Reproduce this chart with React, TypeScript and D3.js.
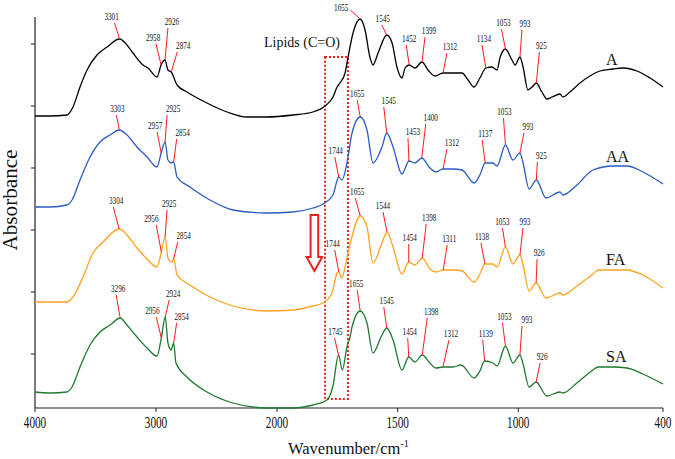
import React from 'react';
import * as d3 from 'd3';

const W = 675;
const H = 459;

// ---------- data ----------
const seriesNames = ['A', 'AA', 'FA', 'SA'];
const seriesColors = ['#000000', '#2a5bc4', '#ffa31f', '#1f7a30'];

const xTickValues = [4000, 3000, 2000, 1500, 1000, 400];
const yTickValues = [0.62, 1.24, 1.86, 2.48, 3.1, 3.72];

// [wavenumber cm-1, absorbance (a.u., offset stacked)]
const dataA: [number, number][] = [
  [4000, 3.0], [3876, 3.0], [3736, 3.01], [3686, 3.09], [3628, 3.29], [3570, 3.46], [3488, 3.61],
  [3405, 3.69], [3301, 3.77], [3240, 3.71], [3190, 3.63], [3107, 3.51], [3066, 3.48], [2992, 3.39],
  [2958, 3.51], [2926, 3.56], [2901, 3.46], [2874, 3.44], [2826, 3.31], [2744, 3.24], [2579, 3.13],
  [2413, 3.04], [2248, 2.99], [2083, 2.99], [1934, 3.01], [1851, 3.04], [1801, 3.1], [1768, 3.19],
  [1751, 3.29], [1739, 3.33], [1718, 3.43], [1706, 3.58], [1685, 3.83], [1655, 3.97], [1635, 3.86],
  [1615, 3.59], [1602, 3.51], [1581, 3.63], [1545, 3.81], [1523, 3.73], [1503, 3.49], [1482, 3.38],
  [1469, 3.48], [1452, 3.51], [1428, 3.48], [1399, 3.54], [1374, 3.46], [1345, 3.4], [1312, 3.43],
  [1270, 3.43], [1233, 3.43], [1208, 3.36], [1183, 3.29], [1159, 3.38], [1134, 3.48], [1109, 3.49],
  [1088, 3.46], [1076, 3.58], [1053, 3.67], [1026, 3.56], [1013, 3.51], [993, 3.59], [980, 3.49],
  [960, 3.26], [943, 3.29], [925, 3.33], [902, 3.24], [881, 3.17], [860, 3.19], [827, 3.22],
  [815, 3.19], [786, 3.24], [744, 3.33], [703, 3.4], [661, 3.45], [607, 3.47], [566, 3.48],
  [508, 3.45], [454, 3.38], [400, 3.29],
];

const dataAA: [number, number][] = [
  [4000, 2.09], [3876, 2.09], [3736, 2.11], [3694, 2.16], [3628, 2.36], [3545, 2.59], [3463, 2.74],
  [3380, 2.81], [3303, 2.86], [3240, 2.81], [3157, 2.69], [3074, 2.59], [2992, 2.49], [2957, 2.63],
  [2925, 2.74], [2901, 2.56], [2875, 2.53], [2854, 2.54], [2826, 2.39], [2719, 2.29], [2554, 2.16],
  [2364, 2.06], [2083, 2.03], [1934, 2.04], [1851, 2.08], [1809, 2.12], [1768, 2.21], [1744, 2.39],
  [1731, 2.36], [1710, 2.53], [1689, 2.83], [1655, 2.99], [1627, 2.86], [1602, 2.53], [1565, 2.69],
  [1545, 2.83], [1519, 2.69], [1482, 2.42], [1453, 2.55], [1428, 2.53], [1400, 2.58], [1366, 2.48],
  [1341, 2.44], [1312, 2.47], [1270, 2.47], [1233, 2.46], [1183, 2.33], [1159, 2.41], [1137, 2.53],
  [1105, 2.53], [1088, 2.5], [1053, 2.71], [1022, 2.56], [993, 2.63], [980, 2.53], [955, 2.27],
  [925, 2.36], [885, 2.18], [827, 2.24], [815, 2.21], [757, 2.31], [690, 2.46], [607, 2.5],
  [549, 2.5], [483, 2.44], [400, 2.32],
];

const dataFA: [number, number][] = [
  [4000, 1.14], [3876, 1.14], [3736, 1.14], [3686, 1.19], [3603, 1.39], [3521, 1.63], [3438, 1.74],
  [3304, 1.87], [3240, 1.81], [3157, 1.68], [3074, 1.57], [2992, 1.49], [2956, 1.64], [2925, 1.79],
  [2901, 1.58], [2868, 1.54], [2854, 1.57], [2826, 1.41], [2719, 1.31], [2554, 1.19], [2364, 1.1],
  [2083, 1.05], [1934, 1.06], [1851, 1.1], [1809, 1.13], [1772, 1.23], [1751, 1.43], [1744, 1.44],
  [1731, 1.38], [1718, 1.49], [1697, 1.72], [1655, 2.0], [1627, 1.89], [1602, 1.53], [1565, 1.73],
  [1544, 1.84], [1519, 1.69], [1482, 1.42], [1454, 1.54], [1428, 1.51], [1398, 1.58], [1366, 1.47],
  [1341, 1.44], [1311, 1.46], [1270, 1.46], [1233, 1.45], [1183, 1.34], [1159, 1.42], [1138, 1.52],
  [1105, 1.52], [1088, 1.49], [1053, 1.69], [1022, 1.52], [993, 1.61], [980, 1.51], [955, 1.25],
  [926, 1.33], [885, 1.18], [827, 1.23], [815, 1.21], [757, 1.3], [690, 1.42], [669, 1.46],
  [607, 1.46], [549, 1.46], [483, 1.41], [400, 1.28],
];

const dataSA: [number, number][] = [
  [4000, 0.24], [3876, 0.23], [3736, 0.24], [3694, 0.29], [3628, 0.49], [3545, 0.71], [3463, 0.84],
  [3380, 0.91], [3296, 0.98], [3240, 0.91], [3157, 0.79], [3074, 0.68], [2992, 0.6], [2956, 0.78],
  [2924, 0.99], [2901, 0.73], [2876, 0.66], [2854, 0.73], [2835, 0.53], [2744, 0.39], [2579, 0.24],
  [2364, 0.13], [2083, 0.08], [1934, 0.08], [1851, 0.11], [1793, 0.16], [1768, 0.3], [1745, 0.61],
  [1729, 0.46], [1710, 0.69], [1697, 0.79], [1689, 0.89], [1655, 1.05], [1627, 0.93], [1602, 0.63],
  [1565, 0.81], [1545, 0.88], [1519, 0.76], [1482, 0.46], [1454, 0.59], [1428, 0.54], [1398, 0.61],
  [1366, 0.53], [1341, 0.48], [1312, 0.49], [1270, 0.49], [1237, 0.51], [1183, 0.38], [1159, 0.45],
  [1139, 0.55], [1105, 0.53], [1088, 0.5], [1053, 0.7], [1022, 0.53], [993, 0.61], [980, 0.52],
  [955, 0.29], [926, 0.34], [881, 0.2], [827, 0.24], [815, 0.23], [757, 0.33], [690, 0.46],
  [669, 0.49], [607, 0.49], [549, 0.48], [483, 0.42], [400, 0.32],
];

const peaksA = [3301, 2958, 2926, 2874, 1655, 1545, 1452, 1399, 1312, 1134, 1053, 993, 925];
const peaksAA = [3303, 2957, 2925, 2854, 1744, 1655, 1545, 1453, 1400, 1312, 1137, 1053, 993, 925];
const peaksFA = [3304, 2956, 2925, 2854, 1744, 1655, 1544, 1454, 1398, 1311, 1138, 1053, 993, 926];
const peaksSA = [3296, 2956, 2924, 2854, 1745, 1655, 1545, 1454, 1398, 1312, 1139, 1053, 993, 926];

// ---------- layout (annotation leader offsets in px: [lineDx, lineDy, textDx, textDy?]) ----------
const layoutA = [[-5, -16, -3], [-5, -21, -3], [3, -32, 4], [6, -20, 6], [-10, -9, -9, 0.5], [-5, -10, 1],
  [-3, -20, 3], [3, -25, 4], [4, -20, 3], [-4, -23, 2], [-4, -20, 2], [2, -27, 3], [3, -31, 2]];
const layoutAA = [[-3, -15, 1], [-4, -21, -2], [2, -27, 6], [3, -23, 6], [-4, -20, 1], [-3, -17, 0], [-3, -26, 5],
  [-1, -23, 5], [4, -34, 5], [4, -20, 5], [-3, -23, 3], [-2, -27, 1], [4, -20, 4], [1, -18, 4]];
const layoutFA = [[-6, -22, 3], [-5, -27, -5], [2, -27, 2], [4, -17, 6], [-4, -22, -2], [-5, -18, 2], [-4, -20, 0],
  [0, -18, 1], [4, -34, 3], [4, -25, 2], [-4, -21, 1], [-3, -19, 0], [3, -27, 2], [1, -24, 2]];
const layoutSA = [[-4, -23, 2], [-5, -21, -4], [4, -17, 4], [3, -20, 5], [-4, -17, 1], [-3, -21, -1], [-3, -21, 3],
  [-1, -19, 2], [5, -37, 4], [6, -27, 2], [-2, -21, 3], [-3, -23, 2], [2, -29, 5], [4, -19, 2]];

const allData = [dataA, dataAA, dataFA, dataSA];
const allPeaks = [peaksA, peaksAA, peaksFA, peaksSA];
const allLayouts = [layoutA, layoutAA, layoutFA, layoutSA];

const lipidBand = [1801, 1706];
const lipidBoxA = [3.59, 0.17];
const labelWn = 636;
const arrowWn = 1845;

const FONT = '"Liberation Serif", "Times New Roman", serif';

function interp(data: [number, number][], wn: number) {
  for (let i = 0; i < data.length - 1; i++) {
    const [w0, a0] = data[i];
    const [w1, a1] = data[i + 1];
    if (wn <= w0 && wn >= w1) {
      const t = (w0 - wn) / (w0 - w1);
      return a0 + t * (a1 - a0);
    }
  }
  return data[data.length - 1][1];
}

export default function App() {
  const left = 35, right = 663, top = 17, bottom = 408;
  const x = d3.scaleLinear().domain([4000, 2000, 400]).range([left, 277, right]);
  const y = d3.scaleLinear().domain([0.08, 3.99]).range([bottom, top]);
  const line = d3.line<[number, number]>()
    .x((d) => x(d[0]))
    .y((d) => y(d[1]))
    .curve(d3.curveMonotoneX);

  const bx0 = x(lipidBand[0]);
  const bx1 = x(lipidBand[1]);
  const by0 = y(lipidBoxA[0]);
  const by1 = y(lipidBoxA[1]);

  const ax = x(arrowWn);
  const arrowPath = `M${ax - 3.8},215 L${ax + 3.8},215 L${ax + 3.8},257 L${ax + 7.8},257 L${ax},271 L${ax - 7.8},257 L${ax - 3.8},257 Z`;

  return (
    <svg width={W} height={H} style={{ position: 'absolute', left: 0, top: 0, background: '#fff' }}>
      {/* axes */}
      <line x1={left} x2={left} y1={top} y2={bottom} stroke="#222" strokeWidth={1.2} />
      <line x1={left} x2={right} y1={bottom} y2={bottom} stroke="#222" strokeWidth={1.2} />
      {yTickValues.map((v) => (
        <line key={'yt' + v} x1={left - 4} x2={left} y1={y(v)} y2={y(v)} stroke="#222" strokeWidth={1} />
      ))}
      {xTickValues.map((v) => (
        <g key={'xt' + v}>
          <line x1={x(v)} x2={x(v)} y1={bottom} y2={bottom + 4} stroke="#222" strokeWidth={1} />
          <text transform={`translate(${x(v)},428) scale(0.7,1)`} fontFamily={FONT} fontSize={16}
            textAnchor="middle" fill="#111">{v}</text>
        </g>
      ))}
      <text x={288} y={454} fontFamily={FONT} fontSize={16.5} fill="#111">
        Wavenumber/cm<tspan fontSize={10} dy={-7}>-1</tspan>
      </text>
      <text transform="translate(17,200) rotate(-90)" fontFamily={FONT} fontSize={20} textAnchor="middle"
        textLength={101} lengthAdjust="spacingAndGlyphs" fill="#111">Absorbance</text>

      {/* lipid region */}
      <rect x={bx0} y={by0} width={bx1 - bx0} height={by1 - by0} fill="none" stroke="#e8231f"
        strokeWidth={2} strokeDasharray="2,2" />
      <text x={302} y={47} fontFamily={FONT} fontSize={14} textAnchor="middle" fill="#111">Lipids (C=O)</text>
      <path d={arrowPath} fill="#fff" stroke="#e8231f" strokeWidth={2} />

      {/* spectra */}
      {allData.map((d, i) => (
        <path key={'s' + i} d={line(d) || ''} fill="none" stroke={seriesColors[i]} strokeWidth={1.3} />
      ))}

      {/* peak annotations */}
      {allPeaks.map((peaks, si) =>
        peaks.map((wn, pi) => {
          const lay = allLayouts[si][pi];
          const px = x(wn);
          const py = y(interp(allData[si], wn));
          const lx = px + lay[0];
          const ly = py + lay[1];
          const tdy = lay.length > 3 ? lay[3] : -3.5;
          const label = String(wn);
          return (
            <g key={'p' + si + '-' + pi}>
              <line x1={px} y1={py} x2={lx} y2={ly} stroke="#ff1a1a" strokeWidth={1} />
              <text transform={`translate(${lx + lay[2]},${ly + tdy}) scale(0.72,1)`} fontFamily={FONT}
                fontSize={10} textAnchor="middle" fill="#111">{label}</text>
            </g>
          );
        })
      )}

      {/* series labels */}
      {allData.map((d, i) => (
        <text key={'l' + i} x={x(labelWn)} y={y(interp(d, labelWn)) - 5} fontFamily={FONT} fontSize={16}
          fill="#111">{seriesNames[i]}</text>
      ))}
    </svg>
  );
}
